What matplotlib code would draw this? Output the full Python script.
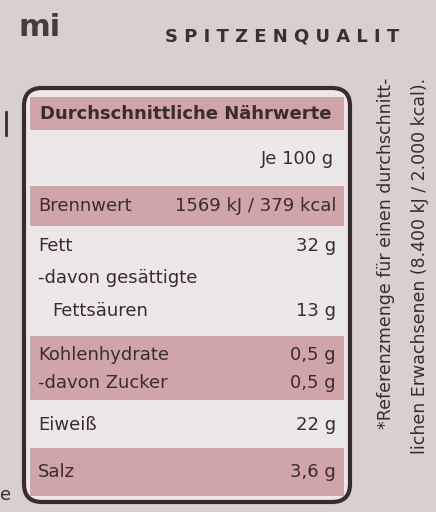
import matplotlib.pyplot as plt
from matplotlib.patches import FancyBboxPatch, Rectangle

plt.rcParams['font.family'] = ['Liberation Sans Narrow', 'DejaVu Sans Condensed', 'DejaVu Sans']

title = "Durchschnittliche Nährwerte"
unit_label = "Je 100 g"
row_labels = ["Brennwert", "Fett", "-davon gesättigte", "Fettsäuren",
              "Kohlenhydrate", "-davon Zucker", "Eiweiß", "Salz"]
row_values = ["1569 kJ / 379 kcal", "32 g", "", "13 g", "0,5 g", "0,5 g", "22 g", "3,6 g"]
footnote = ["*Referenzmenge für einen durchschnitt-",
            "lichen Erwachsenen (8.400 kJ / 2.000 kcal)."]

# (top, bottom, pink?) of the row bands, in pixels
bands = [(97, 130, True), (140, 178, False), (186, 226, True), (232, 330, False),
         (336, 400, True), (406, 442, False), (448, 496, True)]
text_y = [206, 246, 278, 311, 355, 383, 425, 472]

bg = '#d8cfcf'
pink = '#cfa5a8'
white = '#ece8e8'
ink = '#3a2c2e'

fig = plt.figure(figsize=(4.36, 5.12), dpi=100)
ax = fig.add_axes([0, 0, 1, 1])
ax.set_xlim(0, 436)
ax.set_ylim(512, 0)
ax.axis('off')
fig.patch.set_facecolor(bg)

ax.text(18, 28, "mi", fontsize=22, fontweight='bold', color='#4a3a3a', va='center')
ax.text(165, 36, "S P I T Z E N Q U A L I T", fontsize=13, fontweight='bold',
        color='#3a3030', va='center')

box = FancyBboxPatch((24, 88), 326, 414, boxstyle="round,pad=0,rounding_size=18",
                     facecolor=white, edgecolor=ink, linewidth=3)
ax.add_patch(box)
for top, bot, is_pink in bands:
    ax.add_patch(Rectangle((30, top), 314, bot - top, facecolor=pink if is_pink else white,
                           edgecolor='none'))

ax.text(40, 114, title, fontsize=13, fontweight='bold', color=ink, va='center')
ax.text(334, 159, unit_label, fontsize=13, color=ink, va='center', ha='right')
for i, (lab, val) in enumerate(zip(row_labels, row_values)):
    x = 52 if lab == "Fettsäuren" else 38
    ax.text(x, text_y[i], lab, fontsize=13, color=ink, va='center')
    if val:
        ax.text(336, text_y[i], val, fontsize=13, color=ink, va='center', ha='right')

ax.text(386, 78, footnote[0], fontsize=12.5, color=ink, rotation=90, va='center', ha='right',
        rotation_mode='anchor')
ax.text(420, 78, footnote[1], fontsize=12.5, color=ink, rotation=90, va='center', ha='right',
        rotation_mode='anchor')

ax.plot([6, 6], [112, 135], color=ink, lw=2)
ax.text(0, 495, "e", fontsize=13, color=ink, va='center')

fig.savefig('out.png', dpi=100, facecolor=bg)
